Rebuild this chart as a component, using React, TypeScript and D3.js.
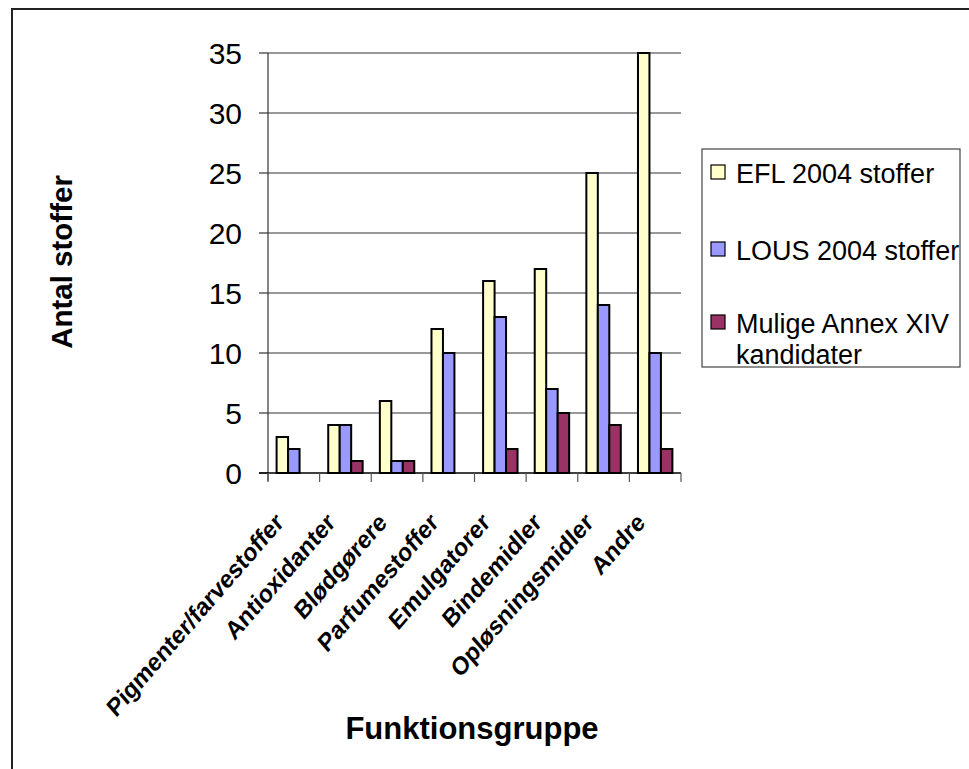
import React from "react";
import * as d3 from "d3";

const categories = [
  "Pigmenter/farvestoffer",
  "Antioxidanter",
  "Blødgørere",
  "Parfumestoffer",
  "Emulgatorer",
  "Bindemidler",
  "Opløsningsmidler",
  "Andre",
];
const seriesNames = ["EFL 2004 stoffer", "LOUS 2004 stoffer", "Mulige Annex XIV kandidater"];
const efl = [3, 4, 6, 12, 16, 17, 25, 35];
const lous = [2, 4, 1, 10, 13, 7, 14, 10];
const mulige = [0, 1, 1, 0, 2, 5, 4, 2];
const yTicks = [0, 5, 10, 15, 20, 25, 30, 35];
const colors = ["#FFFFCC", "#9999FF", "#993366"];

const W = 969;
const H = 769;
const plot = { left: 268, right: 681, top: 53, bottom: 473 };
const font = "'Liberation Sans', Arial, sans-serif";

export default function App() {
  const series = [efl, lous, mulige];
  const x0 = d3
    .scaleBand<string>()
    .domain(categories)
    .range([plot.left, plot.right])
    .paddingInner(0)
    .paddingOuter(0);
  const step = x0.bandwidth();
  const barW = step / 4.5;
  const y = d3.scaleLinear().domain([0, 35]).range([plot.bottom, plot.top]);

  const legendItems = [
    { lines: [seriesNames[0]], y: 173 },
    { lines: [seriesNames[1]], y: 250 },
    { lines: ["Mulige Annex XIV", "kandidater"], y: 323 },
  ];

  return (
    <svg
      width={W}
      height={H}
      style={{ position: "absolute", left: 0, top: 0, background: "#fff" }}
      fontFamily={font}
    >
      <rect x={12} y={9} width={W + 20} height={H + 20} fill="#fff" stroke="#222" strokeWidth={2} />
      {/* gridlines */}
      {yTicks.slice(1).map((t) => (
        <line key={"g" + t} x1={plot.left} x2={plot.right} y1={y(t)} y2={y(t)} stroke="#333" strokeWidth={1} />
      ))}
      {/* bars */}
      {categories.map((c, i) =>
        series.map((s, j) =>
          s[i] > 0 ? (
            <rect
              key={c + j}
              x={(x0(c) as number) + barW * 0.75 + j * barW}
              y={y(s[i])}
              width={barW}
              height={y(0) - y(s[i])}
              fill={colors[j]}
              stroke="#000"
              strokeWidth={2}
            />
          ) : null
        )
      )}
      {/* y axis */}
      <line x1={plot.left} x2={plot.left} y1={plot.top} y2={plot.bottom + 8} stroke="#333" strokeWidth={1.2} />
      {yTicks.map((t) => (
        <g key={"y" + t}>
          <line x1={plot.left - 9} x2={plot.left} y1={y(t)} y2={y(t)} stroke="#333" strokeWidth={1.2} />
          <text x={242} y={y(t)} dy="0.36em" textAnchor="end" fontSize={30} fill="#000">
            {t}
          </text>
        </g>
      ))}
      {/* x axis */}
      <line x1={plot.left - 9} x2={plot.right} y1={plot.bottom} y2={plot.bottom} stroke="#000" strokeWidth={1.5} />
      {d3.range(categories.length + 1).map((i) => {
        const xx = plot.left + i * step;
        return <line key={"xt" + i} x1={xx} x2={xx} y1={plot.bottom} y2={plot.bottom + 9} stroke="#555" strokeWidth={1.2} />;
      })}
      {categories.map((c) => {
        const cx = (x0(c) as number) + step / 2;
        return (
          <text
            key={"xl" + c}
            transform={`translate(${cx - 9},${plot.bottom + 51}) scale(1,1.15) rotate(-45)`}
            textAnchor="end"
            fontSize={22.4}
            fontWeight="bold"
            fill="#000"
          >
            {c}
          </text>
        );
      })}
      {/* axis titles */}
      <text
        transform={`translate(72,262) rotate(-90)`}
        textAnchor="middle"
        fontSize={29.5}
        fontWeight="bold"
        fill="#000"
      >
        Antal stoffer
      </text>
      <text x={472} y={739} textAnchor="middle" fontSize={31} fontWeight="bold" fill="#000">
        Funktionsgruppe
      </text>
      {/* legend */}
      <rect x={702} y={149} width={258} height={218} fill="#fff" stroke="#444" strokeWidth={1.2} />
      {legendItems.map((item, j) => (
        <g key={"lg" + j}>
          <rect x={711} y={item.y - 8} width={14} height={14} fill={colors[j]} stroke="#000" strokeWidth={1.2} />
          {item.lines.map((l, k) => (
            <text key={k} x={736} y={item.y + k * 31} dy="0.36em" fontSize={27} fill="#000">
              {l}
            </text>
          ))}
        </g>
      ))}
    </svg>
  );
}
